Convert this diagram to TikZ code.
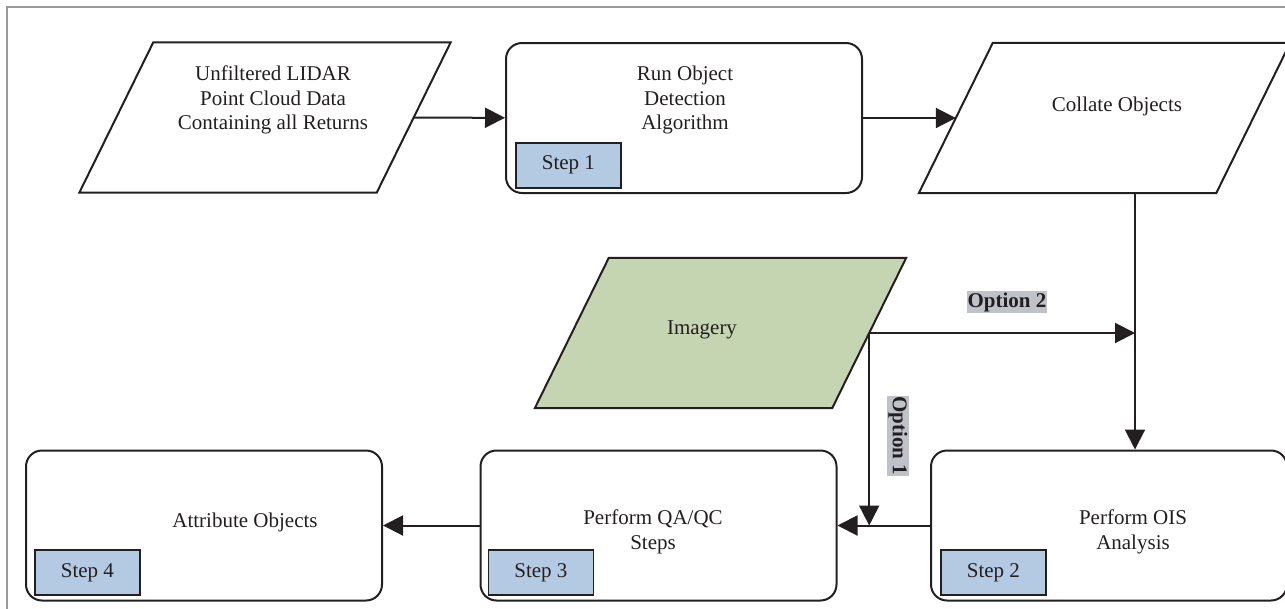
\documentclass[tikz,border=0pt]{standalone}
\usepackage{fontspec}
\setmainfont{Liberation Serif}
\usetikzlibrary{shapes.geometric, arrows.meta, positioning, calc}
\definecolor{stepblue}{RGB}{180,201,226}
\definecolor{imggreen}{RGB}{197,213,177}
\definecolor{optgray}{RGB}{192,194,201}
\definecolor{framegray}{RGB}{150,154,160}
\definecolor{inkdark}{RGB}{35,31,32}
\tikzset{
  basefont/.style={font=\fontsize{21}{24.5}\selectfont},
  procbox/.style={rectangle,rounded corners=16pt,draw=inkdark,line width=2pt,minimum width=356pt,minimum height=150pt,inner sep=0pt},
  databox/.style={rectangle,minimum width=297pt,minimum height=150pt,inner sep=0pt},
  dataline/.style={draw=inkdark,line width=2pt,line join=miter},
  stepbox/.style={rectangle,draw=inkdark,fill=stepblue,line width=1.8pt,minimum width=105pt,minimum height=45pt,inner sep=0pt,basefont,text=inkdark},
  boxtext/.style={align=center,basefont,text=inkdark},
  optlabel/.style={fill=optgray,inner sep=1pt,font=\fontsize{21}{24.5}\selectfont\bfseries,text=inkdark},
  arr/.style={-{Triangle[length=20pt,width=20pt]},line width=2pt,draw=inkdark}
}

\begin{document}
\begin{tikzpicture}[x=1pt,y=-1pt]
  \useasboundingbox (0,0) rectangle (1285,608);
  \draw[framegray,line width=2pt] (7,7) rectangle (1300,625);

  % top row
  \node[databox] (unf) at (265,117.5) {};
  \node[procbox] (run) at (684,118) {};
  \node[databox] (collate) at (1104.5,118) {};
  % imagery
  \node[databox] (img) at (720.5,333) {};
  % bottom row
  \node[procbox] (attr) at (204,525.5) {};
  \node[procbox] (qa) at (658.5,525.5) {};
  \node[procbox] (ois) at (1109,525.5) {};

  % slanted data shapes
  \foreach \n/\c in {unf/white,collate/white,img/imggreen}
    \draw[dataline,fill=\c] ([xshift=37pt]\n.north west) -- ([xshift=37pt]\n.north east)
      -- ([xshift=-37pt]\n.south east) -- ([xshift=-37pt]\n.south west) -- cycle;

  \node[boxtext] (unf-t) at (273,100) {Unfiltered LIDAR\\Point Cloud Data\\Containing all Returns};
  \node[boxtext] (run-t) at (685,100) {Run Object\\Detection\\Algorithm};
  \node[boxtext] (collate-t) at (1117,106) {Collate Objects};
  \node[boxtext] (img-t) at (702,330) {Imagery};
  \node[boxtext] (attr-t) at (245,522) {Attribute Objects};
  \node[boxtext] (qa-t) at (653,532) {Perform QA/QC\\Steps};
  \node[boxtext] (ois-t) at (1133,532) {Perform OIS\\Analysis};

  \node[stepbox,anchor=south west,above right=5.5pt and 10pt of run.south west] (s1) {Step 1};
  \node[stepbox,anchor=south west,above right=5.5pt and 10pt of ois.south west] (s2) {Step 2};
  \node[stepbox,anchor=south west,above right=5.5pt and 8pt of qa.south west] (s3) {Step 3};
  \node[stepbox,anchor=south west,above right=5.5pt and 9pt of attr.south west] (s4) {Step 4};

  \coordinate (merge) at (1135,333);
  \draw[arr] (unf) -- (run);
  \draw[arr] (run) -- (collate);
  \draw[arr] (collate.south -| merge) -- (ois.north -| merge);
  \draw[arr] (img) -- (merge) coordinate[pos=0] (split);
  \draw[arr] (split) -- (split |- qa.east);
  \draw[arr] (ois) -- (qa);
  \draw[arr] (qa) -- (attr);

  \node[optlabel] (opt2) at (1007,302) {Option 2};
  \node[optlabel,rotate=-90] (opt1) at (898,436) {Option 1};
\end{tikzpicture}
\end{document}
